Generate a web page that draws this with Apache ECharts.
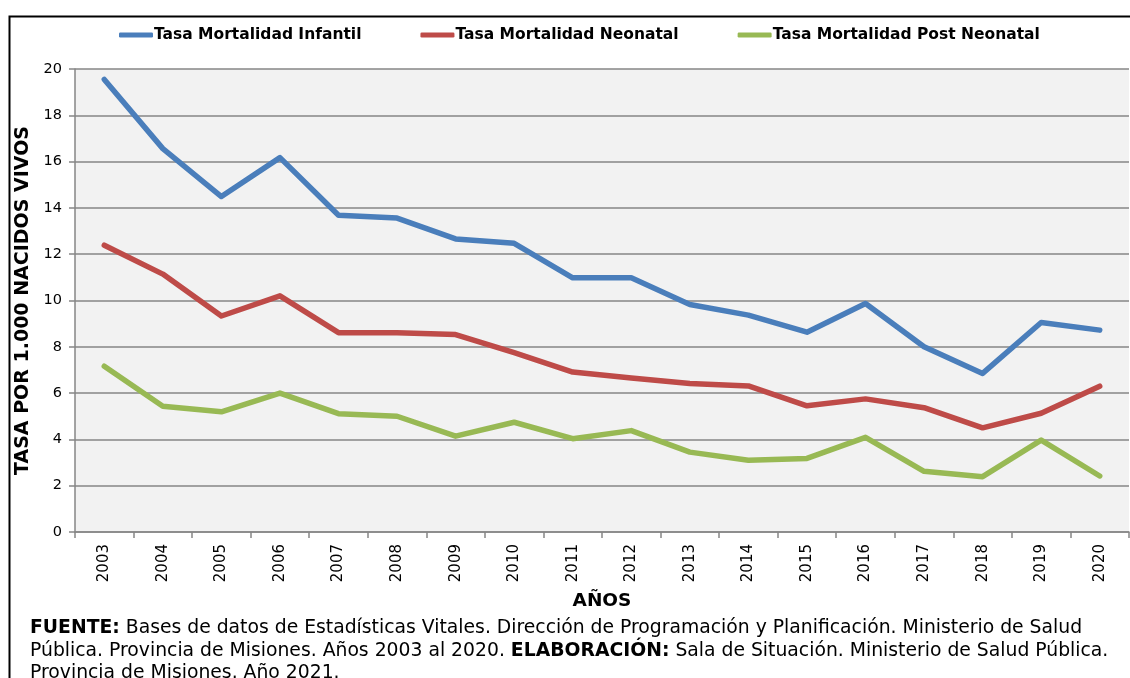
<!DOCTYPE html>
<html><head><meta charset="utf-8">
<script src="https://cdn.jsdelivr.net/npm/echarts@6/dist/echarts.min.js"></script>
<style>html,body{margin:0;padding:0;background:#fff}#c{width:1130px;height:678px}</style>
</head><body><div id="c"></div>
<script>
const years = ['2003','2004','2005','2006','2007','2008','2009','2010','2011','2012','2013','2014','2015','2016','2017','2018','2019','2020'];
const infantil = [19.55,16.56,14.49,16.17,13.68,13.56,12.66,12.47,10.98,10.98,9.83,9.37,8.63,9.87,8.0,6.85,9.05,8.72];
const neonatal = [12.39,11.14,9.33,10.2,8.61,8.61,8.53,7.75,6.91,6.65,6.41,6.31,5.45,5.75,5.37,4.5,5.13,6.3];
const postNeonatal = [7.16,5.43,5.19,6.0,5.11,5.0,4.14,4.74,4.03,4.38,3.45,3.1,3.18,4.09,2.62,2.39,3.97,2.42];
const seriesNames = ['Tasa Mortalidad Infantil','Tasa Mortalidad Neonatal','Tasa Mortalidad Post Neonatal'];
const colors = ['#4A7EBB','#BE4B48','#98B954'];

const chart = echarts.init(document.getElementById('c'), null, {renderer:'canvas'});
const F = 'DejaVu Sans, Verdana, sans-serif';
chart.setOption({
  animation:false,
  color: colors,
  legend:{
    top: 22, left: 114, itemGap: 59, itemWidth: 34, itemHeight: 5,
    icon: 'roundRect',
    textStyle:{fontFamily:F, fontWeight:'bold', fontSize:15.5, color:'#000', padding:[0,0,0,-4]},
    data: seriesNames
  },
  grid:{left:75, right:1, top:69, bottom:146, show:true, backgroundColor:'#F2F2F2', borderWidth:0},
  xAxis:{
    type:'category', data:years, boundaryGap:true,
    name:'AÑOS', nameLocation:'middle', nameGap:60,
    nameTextStyle:{fontFamily:F, fontWeight:'bold', fontSize:18.5, color:'#000'},
    axisLine:{lineStyle:{color:'#868686', width:1.5}},
    axisTick:{show:true, length:6, lineStyle:{color:'#868686', width:1.5}},
    axisLabel:{rotate:90, fontFamily:F, fontSize:15, color:'#000', margin:12}
  },
  yAxis:{
    type:'value', min:0, max:20, interval:2,
    name:'TASA POR 1.000 NACIDOS VIVOS', nameLocation:'middle', nameGap:38,
    nameTextStyle:{fontFamily:F, fontWeight:'bold', fontSize:19, color:'#000'},
    axisLine:{show:true, lineStyle:{color:'#868686', width:1.5}},
    axisTick:{show:true, length:6, lineStyle:{color:'#868686', width:1.5}},
    splitLine:{lineStyle:{color:'#868686', width:1.5}},
    axisLabel:{fontFamily:F, fontSize:14.5, color:'#000', margin:13}
  },
  series:[
    {name:seriesNames[0], type:'line', data:infantil, symbol:'none', lineStyle:{width:5.5, cap:'round', join:'round'}},
    {name:seriesNames[1], type:'line', data:neonatal, symbol:'none', lineStyle:{width:5.5, cap:'round', join:'round'}},
    {name:seriesNames[2], type:'line', data:postNeonatal, symbol:'none', lineStyle:{width:5.5, cap:'round', join:'round'}}
  ],
  graphic:[
    {type:'rect', left:7, top:14, shape:{x:0,y:0,width:1140,height:700}, style:{fill:null, stroke:'#000', lineWidth:2}, silent:true, z:100},
    {type:'text', left:30, top:617, style:{
      text:'{b|FUENTE:} Bases de datos de Estadísticas Vitales. Dirección de Programación y Planificación. Ministerio de Salud\nPública. Provincia de Misiones. Años 2003 al 2020. {b|ELABORACIÓN:} Sala de Situación. Ministerio de Salud Pública.\nProvincia de Misiones. Año 2021.',
      font:'18.8px DejaVu Sans', fill:'#000', lineHeight:22.5,
      rich:{b:{fontWeight:'bold', fontFamily:'DejaVu Sans', fontSize:18.8, fill:'#000', lineHeight:22.5}}
    }}
  ]
});
</script></body></html>
